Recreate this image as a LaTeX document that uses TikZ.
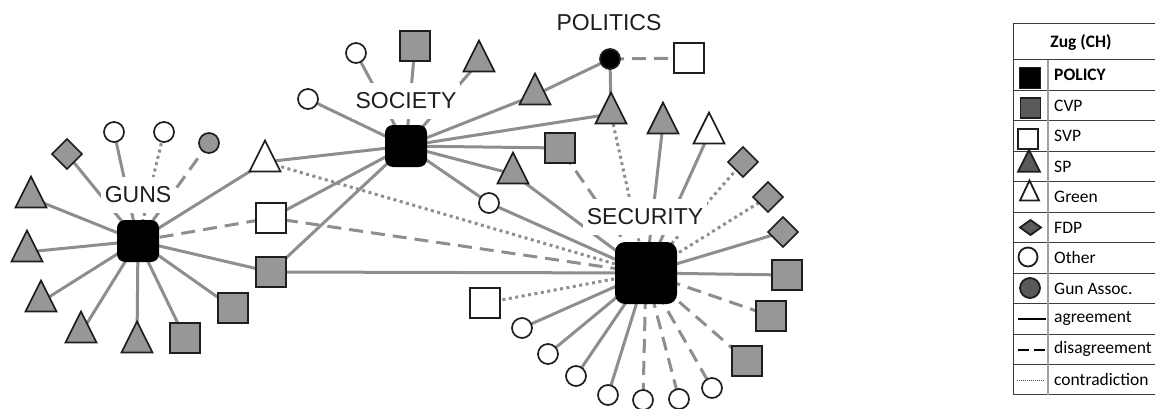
\documentclass[tikz,border=0pt]{standalone}
\usepackage{fontspec}
\setmainfont{Liberation Sans}
\newfontfamily\legfont{Carlito}
\usetikzlibrary{shapes.geometric}
\pgfdeclarelayer{bg}
\pgfsetlayers{bg,main}
\definecolor{edgec}{HTML}{8E8E8E}
\definecolor{nodeg}{HTML}{979797}
\definecolor{legg}{HTML}{5A5A5A}
\definecolor{bord}{HTML}{1E1E1E}
\definecolor{tabline}{HTML}{3C3C3C}
\definecolor{tabdiv}{HTML}{A0A0A0}
\tikzset{
 nd/.style={draw=bord, line width=1.7pt, inner sep=0pt, outer sep=0pt},
 sqr/.style={nd, rectangle, minimum size=30pt, fill=#1},
 cir/.style={nd, circle, minimum size=20pt, fill=#1},
 tri/.style={nd, isosceles triangle, isosceles triangle stretches, shape border rotate=90, minimum width=31pt, minimum height=31pt, fill=#1},
 dia/.style={nd, diamond, minimum width=30pt, minimum height=30pt, fill=#1},
 hub/.style={rectangle, fill=black, rounded corners=8pt, minimum size=#1, inner sep=0pt},
 lab/.style={fill=white, inner xsep=4pt, inner ysep=10pt, font=\fontsize{23}{25}\selectfont, text=bord},
 ag/.style={draw=edgec, line width=3pt},
 dis/.style={ag, dash pattern=on 14pt off 8pt},
 con/.style={ag, dash pattern=on 3pt off 3.5pt},
 lsym/.style={draw=bord, line width=1.8pt, inner sep=0pt, outer sep=0pt},
 ltxt/.style={anchor=west, inner sep=0pt, font=\legfont\fontsize{17.5}{20}\selectfont, text=black},
}
\begin{document}
\begin{tikzpicture}[x=1pt,y=-1pt]
\useasboundingbox (0,0) rectangle (1155,409);
% hubs
\node[hub=42pt] (guns) at (138,241) {};
\node[hub=42pt] (soc) at (406,146) {};
\node[hub=62pt, rounded corners=10pt] (sec) at (646,273) {};
\node[nd, circle, fill=black, minimum size=20pt] (pol) at (610,59) {};
% labels
\node[lab] (lguns) at (138,195) {GUNS};
\node[lab] (lsoc) at (406,101) {SOCIETY};
\node[lab] (lsec) at (645,217) {SECURITY};
\node[lab] (lpol) at (609,23) {POLITICS};
% GUNS satellites
\node[dia=nodeg] (g1) at (67,154) {};
\node[cir=white] (g2) at (114,132) {};
\node[cir=white] (g3) at (164,132) {};
\node[cir=nodeg] (g4) at (209,143) {};
\node[tri=nodeg] (g5) at (31,198) {};
\node[tri=nodeg] (g6) at (27,252) {};
\node[tri=nodeg] (g7) at (41,302) {};
\node[tri=nodeg] (g8) at (81,333) {};
\node[tri=nodeg] (g9) at (137,343) {};
\node[sqr=nodeg] (g10) at (185,338) {};
\node[sqr=nodeg] (g11) at (233,308) {};
\node[sqr=nodeg] (m1) at (271,272) {};
\node[sqr=white] (m2) at (271,218) {};
\node[tri=white] (m3) at (265,162) {};
% SOCIETY satellites
\node[cir=white] (s1) at (356,53) {};
\node[sqr=nodeg] (s2) at (415,46) {};
\node[tri=nodeg] (s3) at (479,62) {};
\node[cir=white] (s4) at (308,99) {};
\node[tri=nodeg] (t1) at (535,95) {};
\node[tri=nodeg] (t2) at (611,114) {};
\node[sqr=nodeg] (q1) at (560,148) {};
\node[tri=nodeg] (t3) at (513,174) {};
\node[cir=white] (c1) at (489,203) {};
% POLITICS
\node[sqr=white] (p1) at (689,58) {};
% SECURITY satellites
\node[tri=nodeg] (e1) at (663,124) {};
\node[tri=white] (e2) at (709,134) {};
\node[dia=nodeg] (e3) at (743,162) {};
\node[dia=nodeg] (e4) at (768,197) {};
\node[dia=nodeg] (e5) at (783,232) {};
\node[sqr=nodeg] (e6) at (787,275) {};
\node[sqr=nodeg] (e7) at (771,316) {};
\node[sqr=nodeg] (e8) at (747,361) {};
\node[cir=white] (e9) at (712,388) {};
\node[cir=white] (e10) at (679,399) {};
\node[cir=white] (e11) at (643,400) {};
\node[cir=white] (e12) at (608,395) {};
\node[cir=white] (e13) at (576,376) {};
\node[cir=white] (e14) at (548,354) {};
\node[cir=white] (e15) at (522,328) {};
\node[sqr=white] (e16) at (485,303) {};
% edges
\begin{pgfonlayer}{bg}
\foreach \n in {g1,g2,g5,g6,g7,g8,g9,g10,g11,m1,m3} \draw[ag] (guns.center) -- (\n.center);
\draw[con] (guns.center) -- (g3.center);
\draw[dis] (guns.center) -- (g4.center);
\draw[dis] (guns.center) -- (m2.center);
\foreach \n in {s1,s2,s3,s4,t1,t2,q1,t3,c1,m1,m2,m3} \draw[ag] (soc.center) -- (\n.center);
\draw[ag] (pol.center) -- (t1.center);
\draw[ag] (pol.center) -- (t2.center);
\draw[dis] (pol.center) -- (p1.center);
\foreach \n in {e1,e2,e5,e6,e12,e13,e14,e15,t3,c1,m1} \draw[ag] (sec.center) -- (\n.center);
\foreach \n in {e7,e8,e9,e10,e11,q1,m2} \draw[dis] (sec.center) -- (\n.center);
\foreach \n in {e3,e4,e16,t2,m3} \draw[con] (sec.center) -- (\n.center);
\end{pgfonlayer}
% legend table
\draw[tabline, line width=1pt] (1013,24) -- (1155,24);
\foreach \k in {0,...,11} \draw[tabline, line width=1pt] (1013,{60+30.45*\k}) -- (1155,{60+30.45*\k});
\draw[tabline, line width=1pt] (1013,24) -- (1013,395);
\draw[tabdiv, line width=1.4pt] (1048,60) -- (1048,395);
\node[anchor=center, inner sep=0pt, font=\legfont\bfseries\fontsize{17.5}{20}\selectfont, text=black] (lh) at (1081,42) {Zug (CH)};
% legend symbols
\node[lsym, rectangle, fill=black, minimum size=21pt] (ls1) at (1030,78) {};
\node[lsym, rectangle, fill=legg, minimum size=20pt] (ls2) at (1030.5,108) {};
\node[lsym, rectangle, fill=white, minimum size=20pt] (ls3) at (1028,139) {};
\node[lsym, isosceles triangle, isosceles triangle stretches, shape border rotate=90, minimum width=22pt, minimum height=22pt, fill=legg] (ls4) at (1029,165) {};
\node[lsym, isosceles triangle, isosceles triangle stretches, shape border rotate=90, minimum width=19pt, minimum height=20pt, fill=white] (ls5) at (1029.5,194.5) {};
\node[lsym, diamond, minimum width=21pt, minimum height=15pt, fill=legg] (ls6) at (1030.5,227.5) {};
\node[lsym, circle, minimum size=19pt, fill=white] (ls7) at (1028,257) {};
\node[lsym, circle, minimum size=20pt, fill=legg] (ls8) at (1030,288) {};
\coordinate (a1) at (1018,319); \coordinate (a2) at (1046,319);
\draw[black, line width=1.3pt] (a1) -- (a2);
\coordinate (b1) at (1018,350); \coordinate (b2) at (1046,350);
\draw[black, line width=1.3pt, dash pattern=on 11pt off 5pt] (b1) -- (b2);
\coordinate (d1) at (1017,380); \coordinate (d2) at (1045,380);
\draw[black!70, line width=0.9pt, dash pattern=on 1pt off 1pt] (d1) -- (d2);
% legend texts
\node[ltxt, font=\legfont\bfseries\fontsize{17.5}{20}\selectfont] (lt1) at (1054,75.2) {POLICY};
\node[ltxt] (lt2) at (1054,105.7) {CVP};
\node[ltxt] (lt3) at (1054,136.1) {SVP};
\node[ltxt] (lt4) at (1054,166.6) {SP};
\node[ltxt] (lt5) at (1054,197.0) {Green};
\node[ltxt] (lt6) at (1054,227.5) {FDP};
\node[ltxt] (lt7) at (1054,257.9) {Other};
\node[ltxt] (lt8) at (1054,288.4) {Gun Assoc.};
\node[ltxt] (lt9) at (1054,318.8) {agreement};
\node[ltxt] (lt10) at (1054,349.3) {disagreement};
\node[ltxt] (lt11) at (1054,379.7) {contradiction};
\end{tikzpicture}
\end{document}
